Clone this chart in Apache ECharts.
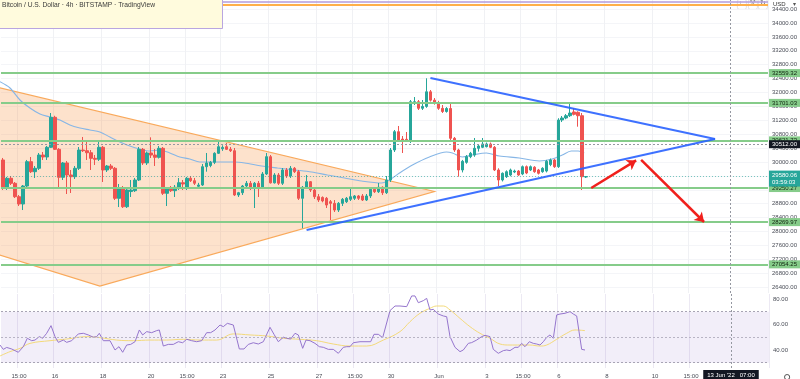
<!DOCTYPE html>
<html><head><meta charset="utf-8">
<script src="https://cdn.jsdelivr.net/npm/echarts@6/dist/echarts.min.js"></script>
<style>html,body{margin:0;padding:0;background:#fff}#c{width:800px;height:379px}</style>
</head><body><div id="c"></div>
<script>
// ---- data ----
// candles: [open, close, low, high], one per 4h bar starting 13 May 23:00
const candles = [
[30058,29243,29194,30116],[29243,29531,29194,29568],[29531,29387,29338,29597],[29387,29001,28964,29424],
[29001,28791,28733,29050],[28791,29309,28618,29338],[29309,30009,29280,30058],[30009,29721,29683,30144],
[29721,29819,29540,29885],[29819,30201,29770,30259],[30201,30144,30058,30288],[30144,30423,30058,30461],
[30423,31286,30403,31410],[31286,30365,30345,31330],[30365,29560,29280,30400],[29560,29972,29482,30000],
[29972,29626,29079,30029],[29626,29577,29108,29770],[29577,29819,29511,29885],[29819,30345,29770,30432],
[30345,30325,30288,30720],[30325,30267,30058,30575],[30267,30106,29770,30345],[30106,30078,29914,30201],
[30078,30423,30029,30633],[30423,29770,29424,30461],[29770,29885,29712,29914],[29885,29819,29770,29943],
[29819,28955,28906,29856],[28955,29243,28704,29367],[29243,28713,28676,29309],[28713,29194,28676,29252],
[29150,29194,28993,29482],[29174,29482,29137,29540],[29482,30365,29453,30432],[30365,29972,29914,30403],
[29972,30259,29914,30300],[30259,30200,30115,30710],[30200,30135,29885,30374],[30135,30394,30100,30461],
[30394,29099,29050,30432],[29099,29243,28733,29280],[29243,29174,29137,29309],[29174,29272,28993,29338],
[29272,29404,29194,29540],[29404,29367,29194,29482],[29250,29531,29194,29568],[29531,29462,29424,29597],
[29462,29387,29338,29540],[29300,29338,29250,29400],[29338,29865,29309,29943],[29865,29972,29721,30259],
[29900,29990,29850,30030],[29990,30250,29940,30280],[30250,30440,30230,30585],[30380,30420,30320,30480],
[30440,30365,30345,30547],[30365,30325,30288,30432],[30325,29050,29021,30403],[29050,29116,28993,29140],
[29116,29309,29050,29338],[29309,29387,29223,29453],[29387,29272,29194,29453],[29272,29387,28676,29424],
[29387,29280,28993,29453],[29280,29655,29222,29712],[29655,30153,29626,30259],[30153,29400,29380,30201],
[29400,29626,29380,29680],[29626,29387,29338,29683],[29387,29770,29338,29827],[29770,29597,29540,29827],
[29597,29819,29540,29885],[29819,29721,29683,29856],[29721,28955,28906,29770],[28955,29272,28092,29309],
[29272,29433,29223,29626],[29433,29194,29137,29453],[29194,29001,28935,29252],[29001,28906,28848,29079],
[28980,28880,28840,29010],[28955,28762,28676,28993],[28858,28810,28331,28906],[28810,28618,28561,28906],
[28618,28810,28561,28848],[28810,28926,28733,28964],[28858,28955,28820,28993],[28926,29001,28878,29243],
[28955,29022,28906,29050],[29022,28955,28906,29050],[29022,28906,28878,29079],[28906,29022,28878,29079],
[29022,29214,28964,29252],[29214,29145,29108,29280],[29145,29272,29108,29396],[29272,29116,29050,29300],
[29116,29482,29079,29597],[29482,30345,29424,30403],[30345,30872,30288,30921],[30872,30633,30576,31036],
[30660,30613,30259,30748],[30653,30613,30576,30863],[30613,31735,30547,31784],[31689,31735,31640,31870],
[31735,31545,31496,31784],[31545,31600,31496,31784],[31600,32020,31560,32409],[32020,31780,31740,32072],
[31780,31700,31650,31840],[31700,31545,31500,31760],[31545,31453,31410,31640],[31453,31540,31420,31580],
[31540,30682,30630,31700],[30682,30345,30290,30720],[30345,29770,29577,30380],[29770,30020,29700,30060],
[29990,30153,29950,30200],[30153,30250,30110,30290],[30200,30394,30150,30691],[30394,30461,30300,30500],
[30423,30518,30400,30691],[30440,30518,30420,30560],[30518,30423,30400,30560],[30423,29770,29740,30460],
[29770,29482,29309,29820],[29482,29675,29440,29700],[29577,29721,29540,29760],[29626,29770,29590,29810],
[29712,29740,29680,29780],[29740,29626,29600,29770],[29655,29865,29620,29900],[29865,29683,29650,29900],
[29770,29865,29740,29900],[29850,29721,29690,29880],[29770,29675,29640,29800],[29721,29819,29690,29850],
[29740,30020,29700,30060],[29925,30058,29880,30100],[30058,29865,29830,30090],[29865,31209,29830,31260],
[31209,31266,31150,31324],[31266,31332,31230,31380],[31332,31410,31295,31689],[31440,31372,31340,31554],
[31430,31332,31016,31460],[31332,29577,29194,31410],[29568,29580.06,29540,29597]
];
// moving average on price: [bar index, price]
const maPoints = [[-0.75,32311],[1.75,32130],[4.25,31784],[6.75,31554],[9.25,31381],[11.75,31295],[14.25,31209],
[16.75,31065],[19.25,30979],[21.75,30921],[24.25,30863],[26.75,30720],[29.25,30575],[31.75,30461],[34.25,30374],
[36.75,30317],[39.25,30345],[41.75,30259],[44.25,30144],[46.75,30086],[49.25,30000],[53,30000],[58,30000],
[60.5,29971],[64.75,29885],[68.75,29827],[73,29770],[77.25,29712],[81.25,29626],[85.5,29540],[89.75,29453],
[94.75,29396],[96.75,29482],[99.25,29683],[102.5,29914],[106.75,30144],[111,30288],[112.5,30259],[115,30144],
[117.5,30201],[121,30259],[124.25,30173],[129.25,30115],[134.25,30029],[137.5,30086],[140,30201],[142.25,30317],
[144,30317],[145.5,30259]];
// RSI: [bar index, value]
const rsiPoints = [[-0.75,43.9],[0.08,40.5],[0.92,42.0],[2.17,40.8],[3.83,38.2],[5.08,42.6],[6.08,49.2],[7.17,47.3],
[8,47.8],[9.08,50.5],[9.92,49.2],[10.92,53.1],[12,59.1],[13,50.5],[13.83,46.0],[15.08,47.8],[15.92,46.0],[17.17,47.3],
[18.83,52.6],[20.08,53.1],[21.33,51.8],[22.58,50.0],[23.42,50.5],[24.08,53.1],[25.08,47.3],[26.75,47.3],[28,40.0],
[29,42.6],[29.92,38.2],[30.92,43.9],[31.92,44.4],[33,46.5],[34.08,55.7],[34.92,51.8],[35.92,54.4],[37.17,53.6],
[38.42,55.2],[39.08,55.7],[40.08,43.1],[41.33,44.4],[42.58,44.4],[43.83,46.5],[44.92,45.7],[45.92,48.4],[47.17,47.3],
[48.42,46.5],[49.67,47.3],[50.92,53.6],[51.92,53.6],[53,55.7],[54.25,59.6],[55.08,58.3],[56.08,60.9],[57.58,59.6],
[59.08,40.8],[60.25,40.8],[61.33,44.4],[62.58,45.7],[63.83,44.7],[65.08,46.5],[66.75,57.8],[67.75,52.3],[68.83,46.5],
[70.08,50.0],[70.92,49.2],[71.92,48.6],[73,53.1],[73.83,51.8],[74.92,41.3],[75.75,47.8],[76.75,47.3],[78,45.2],
[79.08,42.6],[80.08,42.1],[81.33,40.5],[82.58,40.5],[83.83,37.4],[85.08,42.1],[85.92,42.6],[86.75,42.6],[87.58,45.7],
[89.25,46.5],[90.75,46.5],[91.92,46.5],[92.75,52.3],[93.83,52.3],[94.92,49.7],[96.75,70.9],[98,74.5],[99.25,74.5],
[100.92,74.0],[102.17,82.4],[103,82.4],[103.83,77.1],[105.08,78.7],[105.92,80.5],[106.75,71.4],[107.58,71.9],
[108.83,68.2],[110.08,66.7],[110.92,66.1],[111.75,50.5],[113,42.1],[114.25,38.7],[115.08,40.0],[116.33,45.2],
[117.17,45.8],[118.42,47.8],[119.67,50.5],[120.5,51.5],[121.75,50.5],[122.58,40.5],[123.83,37.4],[125.08,39.5],
[125.92,40.0],[126.75,39.5],[128,42.1],[128.83,42.1],[129.67,45.2],[130.5,42.6],[131.58,46.5],[132.58,45.2],
[133.42,44.7],[134.25,43.9],[135.08,46.5],[135.92,49.9],[136.75,51.8],[137.58,49.2],[138.42,67.5],[139.25,68.2],
[140.5,68.8],[141.75,70.1],[142.58,68.2],[143.42,66.7],[144.67,40.5],[145.5,40.0]];
// RSI moving average: [bar index, value]
const rsiMaPoints = [[-0.75,35.3],[1.75,38.7],[4.25,41.3],[6.75,45.2],[11.75,47.3],[15.92,48.6],[20.92,50.5],
[24.25,49.7],[28.42,47.8],[32.58,47.3],[36.75,47.8],[40.92,47.8],[45.08,48.4],[49.25,47.8],[53.42,47.8],[57.58,52.6],
[61.75,51.8],[65.92,51.0],[70.08,49.2],[74.25,48.4],[78.42,47.3],[82.58,44.7],[86.75,43.1],[90.92,43.1],[95.08,47.8],
[99.25,54.4],[101.75,62.2],[104.25,68.8],[106.75,72.7],[108.42,74.5],[110.08,74.5],[111.75,71.4],[114.25,64.8],
[116.75,58.3],[119.25,53.1],[121.75,49.2],[124.25,44.7],[126.75,43.9],[129.25,43.9],[131.75,43.9],[134.25,43.1],
[135.92,43.9],[138.42,48.4],[140.92,53.1],[143,55.7],[145.5,55.2]];
const levels = [32559.32, 31701.03, 30621.73, 29250.27, 28269.97, 27054.25];
const priceTicks = [26400,26800,27200,27600,28000,28400,28800,29200,29600,30000,30400,30800,31200,31600,32000,32400,32800,33200,33600,34000,34400];
const rsiTicks = [40, 60, 80];
const timeTicks = [[4,'15:00'],[13,'16'],[25,'18'],[37,'20'],[46,'15:00'],[55,'23'],[67,'25'],[79,'27'],[88,'15:00'],
[97,'30'],[109,'Jun'],[121,'3'],[130,'15:00'],[139,'6'],[151,'8'],[163,'10'],[172,'15:00']];
const orangeTri = [[-5.75,32270],[108,29151],[24.25,26431],[-5.75,27496]];
const blueUpper = [[107,32418],[178.25,30662]];
const blueLower = [[76,28043],[178.25,30662]];
const redArrow1 = [[147.25,29252],[158.5,30045]];
const redArrow2 = [[159.75,30058],[175.5,28273]];
const topLines = [34613, 34527];
const lastPrice = 29580.06, lastTimer = '03:59:03';
const crossPrice = 30512.00, crossIndex = 182, crossLabel = "13 Jun '22   07:00";
const N = 192;

// ---- build ----
const cats = [];
const t0 = Date.UTC(2022, 4, 13, 23);
for (let i = 0; i < N; i++) { const d = new Date(t0 + i * 4 * 3600e3); cats.push(d.toISOString().slice(0,16)); }
const tickMap = {}; timeTicks.forEach(([i, s]) => tickMap[i] = s);
const FONT = 'Liberation Sans, Arial, sans-serif';
const axisTxt = {fontSize: 6, color: '#4a4d57', fontFamily: FONT};
const boxLbl = (bg, fg) => ({show: true, position: 'end', distance: 1, backgroundColor: bg, color: fg, opacity: 1,
  fontSize: 6, fontFamily: FONT, padding: [1, 3, 1, 3], formatter: p => Number(p.value).toFixed(2)});

const chart = echarts.init(document.getElementById('c'), null, {renderer: 'canvas'});
chart.setOption({
  animation: false,
  backgroundColor: '#ffffff',
  title: {text: 'Bitcoin / U.S. Dollar · 4h · BITSTAMP · TradingView', left: -1, top: -1,
    padding: [3, 68, 20, 3], backgroundColor: '#fffbdd', borderColor: '#b9a6e0', borderWidth: 1,
    textStyle: {fontSize: 6.7, fontWeight: 'normal', color: '#3a3a3a', fontFamily: FONT}},
  grid: [
    {left: 1, width: 768, top: 0, height: 293},
    {left: 1, width: 768, top: 294, height: 74}
  ],
  xAxis: [
    {type: 'category', gridIndex: 0, data: cats, boundaryGap: true,
      axisLine: {show: false}, axisTick: {show: false}, axisLabel: {show: false},
      splitLine: {show: true, interval: i => tickMap[i] !== undefined, lineStyle: {color: '#f0f1f4', width: 1}}},
    {type: 'value', gridIndex: 0, min: -0.5, max: N - 0.5, show: false},
    {type: 'category', gridIndex: 1, data: cats, boundaryGap: true,
      axisLine: {show: false}, axisTick: {show: false},
      axisLabel: Object.assign({interval: i => tickMap[i] !== undefined, formatter: (v, i) => tickMap[i] || '', margin: 5}, axisTxt),
      splitLine: {show: true, interval: i => tickMap[i] !== undefined, lineStyle: {color: '#ece9f3', width: 1}}},
    {type: 'value', gridIndex: 1, min: -0.5, max: N - 0.5, show: false}
  ],
  yAxis: [
    {type: 'value', gridIndex: 0, position: 'right', min: 26230, max: 34662, scale: true,
      axisLine: {show: false}, axisTick: {show: false, customValues: priceTicks},
      axisLabel: Object.assign({customValues: priceTicks, formatter: v => v.toFixed(2), margin: 4}, axisTxt),
      splitLine: {show: true, lineStyle: {color: '#f4f5f8', width: 1}}},
    {type: 'value', gridIndex: 1, position: 'right', min: 25.88, max: 83.92,
      axisLine: {show: false}, axisTick: {show: false, customValues: rsiTicks},
      axisLabel: Object.assign({customValues: rsiTicks, formatter: v => v.toFixed(2), margin: 4}, axisTxt),
      splitLine: {show: false}}
  ],
  series: [
    {type: 'custom', xAxisIndex: 1, yAxisIndex: 0, data: [0], silent: true, z: 1,
      renderItem: (params, api) => ({type: 'polygon', shape: {points: orangeTri.map(p => api.coord(p))},
        style: {fill: 'rgba(247,140,50,0.25)', stroke: '#f9a95b', lineWidth: 1.2}})},
    {type: 'line', xAxisIndex: 1, yAxisIndex: 0, data: maPoints, smooth: 0.3, symbol: 'none', z: 2,
      lineStyle: {color: '#86b6e6', width: 1.1}, silent: true,
      markLine: {symbol: ['none', 'none'], silent: true, label: {show: false},
        data: [{xAxis: crossIndex, lineStyle: {color: '#9598a1', type: [2, 2], width: 1}}]}},
    {type: 'candlestick', xAxisIndex: 0, yAxisIndex: 0, data: candles, barWidth: 3, z: 3,
      itemStyle: {color: '#26a69a', color0: '#ef5350', borderColor: '#26a69a', borderColor0: '#ef5350', borderWidth: 1},
      markLine: {symbol: ['none', 'none'], silent: true, z: 4,
        data: [
          {yAxis: topLines[0], lineStyle: {color: '#b39ddb', width: 1.5, type: 'solid'}, label: {show: false}},
          {yAxis: topLines[1], lineStyle: {color: '#ffb04a', width: 2, type: 'solid'}, label: {show: false}},
          ...levels.map(v => ({yAxis: v, lineStyle: {color: '#86cc8a', width: 2, type: 'solid'}, label: boxLbl('#86cc8a', '#10240f')})),
          {yAxis: crossPrice, lineStyle: {color: '#9598a1', width: 1, type: [2, 2]}, label: boxLbl('#131722', '#ffffff')},
          {yAxis: lastPrice, lineStyle: {color: 'rgba(38,166,154,0.6)', width: 1, type: [1, 2]},
            label: Object.assign(boxLbl('#26a69a', '#ffffff'), {formatter: () => lastPrice.toFixed(2) + '\n' + lastTimer, lineHeight: 7, offset: [0, 2]})}
        ]}},
    {type: 'lines', coordinateSystem: 'cartesian2d', xAxisIndex: 1, yAxisIndex: 0, z: 5, silent: true,
      symbol: ['none', 'none'], lineStyle: {color: '#2962ff', width: 2, opacity: 0.9},
      data: [{coords: blueUpper}, {coords: blueLower}]},
    {type: 'lines', coordinateSystem: 'cartesian2d', xAxisIndex: 1, yAxisIndex: 0, z: 5, silent: true,
      symbol: ['none', 'arrow'], symbolSize: 9, lineStyle: {color: '#f0201c', width: 2.5, opacity: 1},
      data: [{coords: redArrow1}, {coords: redArrow2}]},
    {type: 'line', xAxisIndex: 3, yAxisIndex: 1, data: rsiPoints, symbol: 'none', z: 3, silent: true,
      lineStyle: {color: '#9575cd', width: 1},
      markArea: {silent: true, itemStyle: {color: 'rgba(126,87,194,0.1)'}, data: [[{yAxis: 30}, {yAxis: 70}]]},
      markLine: {symbol: ['none', 'none'], silent: true,
        data: [
          {yAxis: 70, lineStyle: {color: '#a8a4b4', type: [2, 2], width: 1}, label: {show: false}},
          {yAxis: 50, lineStyle: {color: '#b8b4c4', type: [2, 2], width: 1}, label: {show: false}},
          {yAxis: 30, lineStyle: {color: '#a8a4b4', type: [2, 2], width: 1}, label: {show: false}},
          {xAxis: crossIndex, lineStyle: {color: '#9598a1', type: [2, 2], width: 1},
            label: {show: true, position: 'start', distance: 2, formatter: crossLabel, backgroundColor: '#131722',
              color: '#fff', fontSize: 6, fontFamily: FONT, padding: [2, 4, 2, 4]}}
        ]}},
    {type: 'line', xAxisIndex: 3, yAxisIndex: 1, data: rsiMaPoints, smooth: 0.4, symbol: 'none', z: 2, silent: true,
      lineStyle: {color: '#f3d97a', width: 1}}
  ],
  graphic: [
    {type: 'rect', left: 737, top: -1, shape: {width: 9, height: 10, r: 2}, style: {fill: '#fff', stroke: '#d8d8dc', lineWidth: 0.8}},
    {type: 'text', left: 739, top: 0, style: {text: '↓', fontSize: 7, fill: '#555', font: '7px DejaVu Sans'}},
    {type: 'rect', left: 748, top: -1, shape: {width: 9, height: 10, r: 2}, style: {fill: '#fff', stroke: '#d8d8dc', lineWidth: 0.8}},
    {type: 'text', left: 750, top: 0, style: {text: '⤧', fontSize: 7, fill: '#555', font: '7px DejaVu Sans'}},
    {type: 'rect', left: 758, top: -1, shape: {width: 9, height: 10, r: 2}, style: {fill: '#fff', stroke: '#d8d8dc', lineWidth: 0.8}},
    {type: 'text', left: 760, top: 0, style: {text: '↻', fontSize: 7, fill: '#555', font: '7px DejaVu Sans'}},
    {type: 'text', left: 773, top: 1, style: {text: 'USD', fill: '#333', font: '6px Liberation Sans'}},
    {type: 'text', left: 793, top: 1, style: {text: '▾', fill: '#555', font: '6px DejaVu Sans'}},
    {type: 'circle', left: 782, top: 372, shape: {r: 2.6}, style: {fill: 'none', stroke: '#555', lineWidth: 1}}
  ]
});
</script></body></html>
